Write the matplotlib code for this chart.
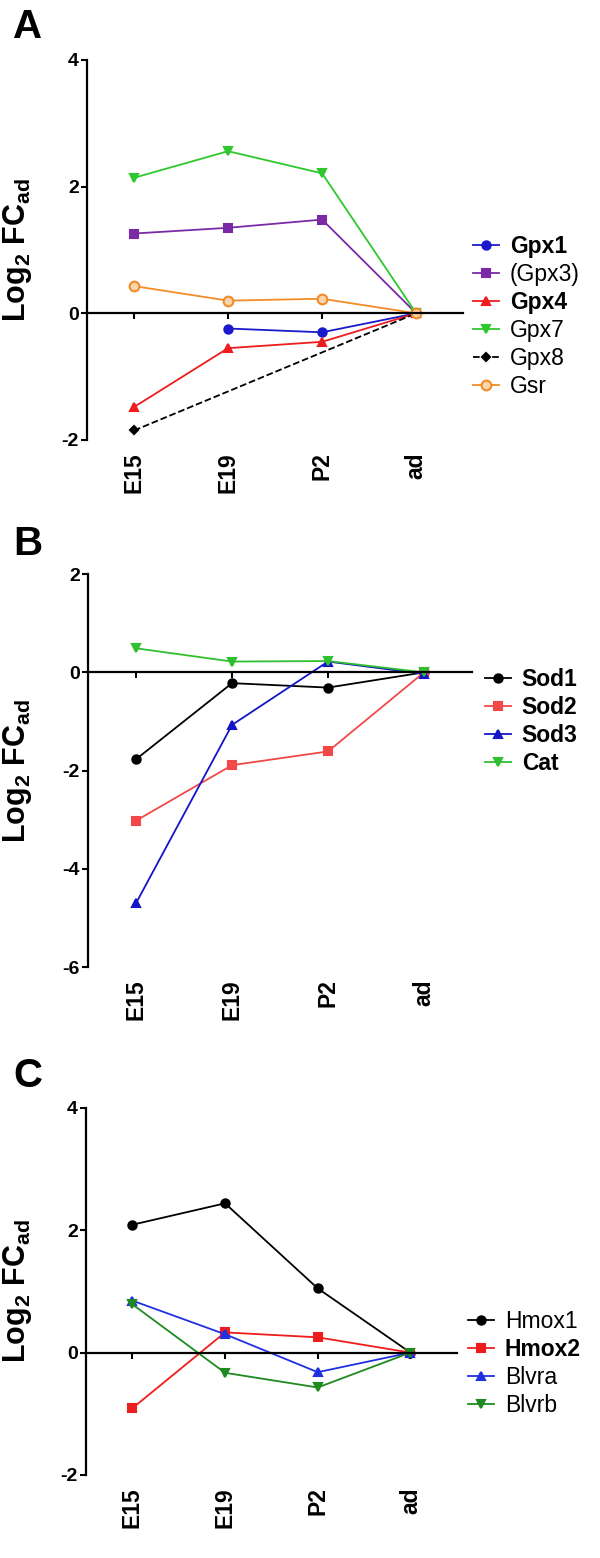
import numpy as np
from matplotlib import pyplot as plt

# data
cats = ['E15', 'E19', 'P2', 'ad']
nan = np.nan

gpx1 = [nan, -0.24, -0.30, 0.0]
gpx3 = [1.26, 1.35, 1.48, 0.0]
gpx4 = [-1.48, -0.55, -0.45, 0.0]
gpx7 = [2.14, 2.56, 2.21, 0.0]
gpx8 = [-1.85, nan, nan, 0.0]
gsr = [0.43, 0.20, 0.23, 0.0]

sod1 = [-1.77, -0.22, -0.31, 0.0]
sod2 = [-3.02, -1.89, -1.61, 0.0]
sod3 = [-4.70, -1.07, 0.22, -0.03]
cat = [0.49, 0.22, 0.23, 0.0]

hmox1 = [2.09, 2.44, 1.05, 0.0]
hmox2 = [-0.91, 0.33, 0.25, 0.0]
blvra = [0.85, 0.30, -0.32, 0.0]
blvrb = [0.79, -0.33, -0.57, 0.0]

plt.rcParams['font.family'] = ['Liberation Sans', 'DejaVu Sans']
plt.rcParams['mathtext.fontset'] = 'custom'
plt.rcParams['mathtext.rm'] = 'Liberation Sans'
plt.rcParams['mathtext.bf'] = 'Liberation Sans:bold'
plt.rcParams['mathtext.default'] = 'regular'

fig = plt.figure(figsize=(6, 15.58), dpi=100)


def series(ax, vals, label, color, marker, ls='-', mfc=None, ms=6):
    y = np.array(vals, dtype=float)
    x = np.arange(len(y))
    m = ~np.isnan(y)
    ax.plot(x[m], y[m], ls=ls, color=color, marker=marker, lw=1.3,
            ms=ms, mfc=mfc if mfc else color, mec=color, mew=1.5,
            label=label)


def style(ax, ylim, yticks):
    ax.set_xlim(-0.5, 3.5)
    ax.set_ylim(*ylim)
    ax.set_yticks(yticks)
    ax.set_yticklabels([str(t) for t in yticks], fontweight='bold')
    ax.spines['top'].set_visible(False)
    ax.spines['right'].set_visible(False)
    ax.spines['left'].set_linewidth(1.6)
    ax.spines['bottom'].set_position(('data', 0))
    ax.spines['bottom'].set_linewidth(1.6)
    ax.set_xticks(range(len(cats)))
    ax.tick_params(axis='x', labelbottom=False, length=4, width=1.5)
    ax.tick_params(axis='y', labelsize=14, length=4, width=1.5, pad=2)
    sec = ax.secondary_xaxis(0.0)
    sec.set_xticks(range(len(cats)), labels=cats)
    sec.tick_params(length=0, pad=9, labelsize=16.5, labelrotation=90)
    for t in sec.get_xticklabels():
        t.set_fontweight('bold')
    sec.spines['bottom'].set_visible(False)
    ax.set_ylabel('Log$_2$ FC$_{ad}$', fontsize=22, fontweight='bold')
    ax.yaxis.set_label_coords(-0.14, 0.5)


def legend(ax, x, y, bold):
    leg = ax.legend(loc='center left', bbox_to_anchor=(x, y),
                    bbox_transform=fig.transFigure, frameon=False,
                    fontsize=16.5, handlelength=1.15, handletextpad=0.45,
                    labelspacing=0.22, borderpad=0, borderaxespad=0,
                    numpoints=1)
    for t, b in zip(leg.get_texts(), bold):
        if b:
            t.set_fontweight('bold')


# A
axA = fig.add_axes([0.145, 0.7176, 0.627, 0.2439])
series(axA, gpx1, 'Gpx1', '#1a1acc', 'o')
series(axA, gpx3, '(Gpx3)', '#7a2aa6', 's')
series(axA, gpx4, 'Gpx4', '#ee1c1c', '^')
series(axA, gpx7, 'Gpx7', '#2ec82e', 'v')
series(axA, gpx8, 'Gpx8', 'black', 'D', ls='--', ms=4.5)
series(axA, gsr, 'Gsr', '#f28c28', 'o', mfc='#fbd7b0', ms=7)
style(axA, (-2, 4), [-2, 0, 2, 4])
legend(axA, 473 / 600, 0.797, [True, False, True, False, False, False])

# B
axB = fig.add_axes([0.1467, 0.3793, 0.64, 0.2522])
series(axB, sod1, 'Sod1', 'black', 'o')
series(axB, sod2, 'Sod2', '#f24848', 's')
series(axB, sod3, 'Sod3', '#1414c8', '^')
series(axB, cat, 'Cat', '#2fbf2f', 'v')
style(axB, (-6, 2), [-6, -4, -2, 0, 2])
legend(axB, 485 / 600, 0.537, [True, True, True, True])

# C
axC = fig.add_axes([0.1433, 0.0533, 0.618, 0.2356])
series(axC, hmox1, 'Hmox1', 'black', 'o')
series(axC, hmox2, 'Hmox2', '#ee1c1c', 's')
series(axC, blvra, 'Blvra', '#2030e0', '^')
series(axC, blvrb, 'Blvrb', '#1f8a1f', 'v')
style(axC, (-2, 4), [-2, 0, 2, 4])
legend(axC, 468 / 600, 0.125, [False, True, False, False])

for letter, top in [('A', 8), ('B', 525), ('C', 1057)]:
    fig.text(13 / 600, 1 - top / 1558, letter, fontsize=29,
             fontweight='bold', ha='left', va='top')

fig.savefig('out.png', dpi=100)
